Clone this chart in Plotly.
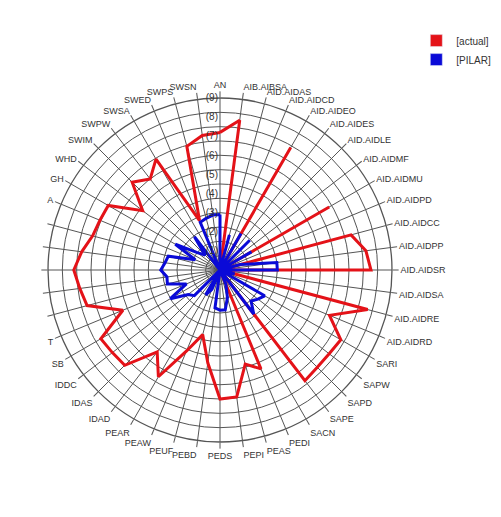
import plotly.graph_objects as go

categories = ["AN", "AIB.AIBSA", "AID.AIDAS", "AID.AIDCD", "AID.AIDEO", "AID.AIDES",
              "AID.AIDLE", "AID.AIDMF", "AID.AIDMU", "AID.AIDPD", "AID.AIDCC", "AID.AIDPP",
              "AID.AIDSR", "AID.AIDSA", "AID.AIDRE", "AID.AIDRD", "SARI", "SAPW", "SAPD",
              "SAPE", "SACN", "PEDI", "PEAS", "PEPI", "PEDS", "PEBD", "PEUF", "PEAW",
              "PEAR", "IDAD", "IDAS", "IDDC", "SB", "T", "c34", "c35", "c36",
              "c37", "c38", "A", "GH", "WHD", "SWIM", "SWPW", "SWSA", "SWED",
              "SWPS", "SWSN"]
# labels as they can be read in the reference (the ones outside its frame are blank)
tick_labels = [c if not c.startswith("c3") else "" for c in categories]

actual = [7.2, 7.9, 0, 0, 7.4, 0, 0, 0, 6.6, 0, 7.1, 7.7,
          7.9, 0, 8.0, 6.2, 7.3, 7.2, 7.2, 7.3, 0, 5.6, 5.1, 6.7,
          6.75, 4.9, 3.5, 4.6, 6.45, 5.4, 7.05, 7.1, 7.2, 5.5, 7.2, 7.4,
          7.65, 7.3, 6.9, 6.8, 6.75, 5.1, 6.5, 6.0, 6.7, 2.8, 6.7, 7.1]

pilar = [2.9, 0, 1.9, 0, 2.2, 0, 2.2, 0, 1.9, 0, 1.1, 3.0,
         3.0, 0, 0.8, 0, 2.7, 2.5, 2.3, 2.9, 0, 0.8, 1.5, 2.1,
         2.1, 2.0, 0, 1.1, 1.5, 0, 1.9, 2.1, 3.0, 1.9, 2.85, 2.8,
         3.1, 2.9, 2.8, 1.4, 2.7, 1.5, 1.1, 2.2, 0, 2.7, 2.8, 2.9]

radial_ticks = [1, 2, 3, 4, 5, 6, 7, 8, 9]
radial_ticktext = ["(1)", "(2)", "(3)", "(4)", "(5)", "(6)", "(7)", "(8)", "(9)"]

RED = "rgb(228,18,24)"
BLUE = "rgb(10,10,215)"
GRID = "rgb(85,85,85)"

fig = go.Figure()

cl = categories + [categories[0]]
fig.add_trace(go.Scatterpolar(r=actual + [actual[0]], theta=cl, mode="lines",
                              line=dict(color=RED, width=3), showlegend=False,
                              subplot="polar"))
fig.add_trace(go.Scatterpolar(r=pilar + [pilar[0]], theta=cl, mode="lines",
                              line=dict(color=BLUE, width=3), showlegend=False,
                              subplot="polar"))
# legend swatches
fig.add_trace(go.Barpolar(r=[0], theta=[categories[0]], name="[actual]",
                          marker=dict(color=RED), subplot="polar"))
fig.add_trace(go.Barpolar(r=[0], theta=[categories[0]], name="[PILAR]",
                          marker=dict(color=BLUE), subplot="polar"))
# dummy for the radial label overlay
fig.add_trace(go.Scatterpolar(r=[0], theta=[categories[0]], mode="markers",
                              marker=dict(opacity=0), showlegend=False,
                              hoverinfo="skip", subplot="polar2"))

R = 172
cx, cy = 212, 262
W, H = 501, 517
dom_x = [(cx - R) / W, (cx + R) / W]
dom_y = [(H - cy - R) / H, (H - cy + R) / H]

fig.update_layout(
    width=W, height=H,
    margin=dict(l=0, r=0, t=0, b=0),
    paper_bgcolor="white",
    font=dict(family="Liberation Sans, Arial", size=9, color="#333"),
    showlegend=True,
    legend=dict(x=0.815, y=0.965, xanchor="left", yanchor="top",
                bgcolor="rgba(0,0,0,0)", font=dict(size=10, color="#333"),
                itemwidth=30, tracegroupgap=0),
    polar=dict(
        domain=dict(x=dom_x, y=dom_y),
        bgcolor="white",
        radialaxis=dict(range=[0, 9], tickvals=[0.75 * i for i in range(1, 13)],
                        showticklabels=False, ticks="", showline=False,
                        gridcolor=GRID, gridwidth=1.3),
        angularaxis=dict(direction="clockwise", rotation=90, type="category",
                         categoryarray=categories, categoryorder="array",
                         tickmode="array", tickvals=categories, ticktext=tick_labels,
                         ticks="outside", ticklen=6, tickcolor=GRID,
                         gridcolor=GRID, gridwidth=1.3, linecolor=GRID,
                         linewidth=1.3, tickfont=dict(size=9, color="#333")),
    ),
    polar2=dict(
        domain=dict(x=dom_x, y=dom_y),
        bgcolor="rgba(0,0,0,0)",
        radialaxis=dict(range=[0, 9], tickvals=radial_ticks, ticktext=radial_ticktext,
                        showgrid=False, showline=False, ticks="", angle=90,
                        side="counterclockwise", tickangle=90,
                        tickfont=dict(size=10, color="#333")),
        angularaxis=dict(visible=False, direction="clockwise", rotation=90,
                         type="category", categoryarray=categories,
                         categoryorder="array"),
    ),
)

fig.write_html("out.html")
